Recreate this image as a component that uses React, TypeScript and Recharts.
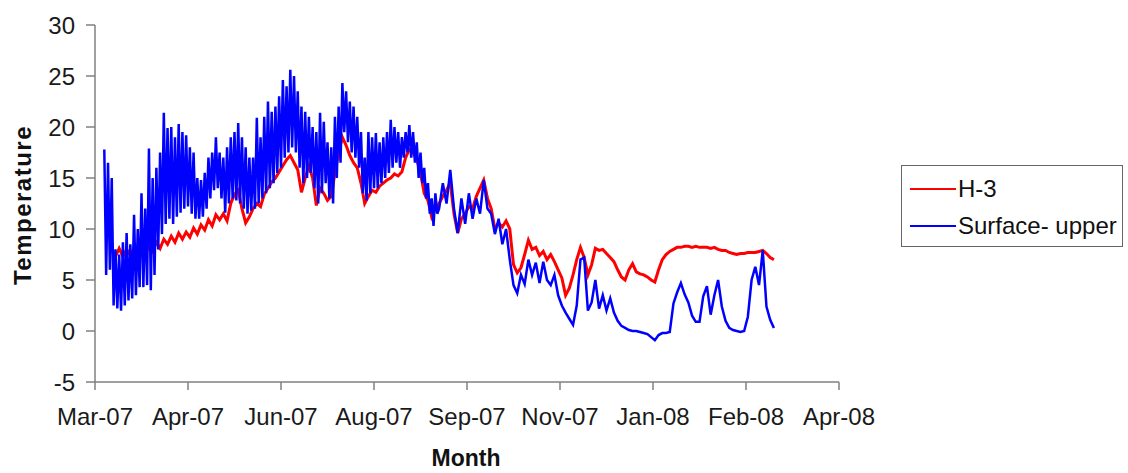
import React from 'react'
import { LineChart, Line, XAxis, YAxis, Legend } from 'recharts'

// day 0 = 9 Mar 2007
// surface logger: daily readings through the noisy spring/summer, then every 2 days
const SURFACE_SPRING_START = 5
const SURFACE_SPRING_STEP = 1
const SURFACE_LATE_START = 185
const SURFACE_LATE_STEP = 2
const H3_START = 9
const H3_STEP = 2

const SURFACE_SPRING_TEMPS = [
  17.8, 5.5, 16.5, 6.0, 15.0, 2.5, 8.0, 2.2, 7.5, 2.0,
  8.7, 2.5, 9.6, 3.0, 8.5, 3.2, 11.4, 3.5, 10.0, 4.3,
  13.5, 4.3, 12.0, 4.5, 17.9, 4.0, 15.0, 5.5, 16.0, 8.0,
  17.5, 9.5, 21.4, 10.5, 19.9, 11.0, 20.0, 10.5, 19.0, 11.2,
  20.3, 11.6, 19.5, 12.0, 19.2, 12.2, 18.0, 11.5, 17.5, 11.0,
  15.0, 11.0, 14.8, 11.2, 15.5, 12.0, 17.0, 13.0, 17.5, 13.8,
  19.0, 14.0, 17.5, 13.0, 17.0, 11.6, 18.0, 12.5, 19.0, 13.0,
  19.5, 12.8, 20.4, 12.5, 19.0, 12.0, 18.0, 11.5, 17.0, 11.8,
  17.0, 12.0, 20.9, 12.5, 19.0, 13.0, 21.0, 13.5, 22.5, 14.0,
  21.5, 14.5, 22.0, 15.5, 23.0, 16.0, 24.6, 17.0, 24.0, 17.5,
  25.6, 18.0, 25.0, 17.5, 23.5, 16.0, 22.0, 14.5, 21.5, 15.0,
  21.0, 15.5, 20.0, 14.0, 19.5, 12.5, 21.4, 13.5, 20.5, 14.5,
  18.5, 13.0, 18.0, 12.5, 21.0, 15.0, 22.0, 16.5, 24.3, 19.5,
  23.5, 18.5, 22.5, 17.5, 22.0, 17.0, 21.0, 16.0, 19.5, 13.5,
  17.0, 12.8, 19.5, 13.5, 19.0, 14.0, 19.4, 14.0, 18.5, 14.5,
  19.0, 15.0, 19.5, 15.5, 20.7, 16.0, 20.0, 16.5, 19.5, 16.0,
  19.0, 17.0, 19.5, 17.5, 20.2, 17.0, 19.5, 16.5, 18.5, 15.0,
  17.5, 14.5, 16.0, 13.0, 14.5, 11.5, 13.0, 10.3, 13.5, 11.5,
]

const SURFACE_LATE_TEMPS = [
  12, 14.5, 12.5, 15.8, 12, 9.6, 13, 10.5, 13.5, 11,
  13, 11.5, 14.8, 12, 11.5, 9.5, 11, 8.5, 10, 7,
  4.5, 3.7, 5.5, 4.6, 7.0, 5.5, 6.7, 4.7, 6.8, 5,
  4.5, 5.5, 3.5, 2.5, 1.8, 1.2, 0.6, 2.5, 7.0, 7.2,
  2.0, 2.8, 5.0, 2.2, 3.5, 2.0, 3.2, 1.8, 1.0, 0.5,
  0.3, 0.1, 0.0, 0.0, -0.1, -0.2, -0.3, -0.6, -0.9, -0.4,
  -0.2, -0.2, -0.1, 2.7, 3.8, 4.7, 3.6, 2.8, 1.5, 0.9,
  0.9, 3.4, 4.4, 1.6, 3.5, 5.0, 2.4, 1.0, 0.3, 0.1,
  0.0, -0.1, 0.0, 1.4, 5.0, 6.3, 4.5, 7.9, 2.4, 1.1, 0.3,
]

const H3_TEMPS = [
  7.9, 7.3, 8.1, 7.3, 8.0, 7.4, 8.1, 7.5, 8.2, 7.6,
  8.3, 7.8, 8.7, 8.1, 9.0, 8.5, 9.3, 8.7, 9.6, 9.0,
  9.7, 9.2, 10.1, 9.5, 10.4, 9.9, 10.9, 10.3, 11.4, 10.9,
  11.5, 10.8, 12.5, 13.4, 13.8, 12.0, 10.6, 11.2, 12.0, 12.5,
  12.2, 13.4, 14.0, 14.6, 15.0, 15.6, 16.2, 16.8, 17.2, 16.5,
  15.8, 13.6, 15.0, 16.2, 15.0, 12.3, 14.0, 13.5, 12.8, 13.2,
  15.5, 17.5, 19.0, 18.2, 17.2, 16.5, 16.0, 14.5, 12.5, 13.2,
  13.8, 13.6, 14.2, 14.5, 14.8, 15.0, 15.4, 15.2, 15.6, 17.0,
  17.8, 17.5, 16.8, 15.5, 13.5, 12.8, 11.2, 12.0, 12.5, 13.2,
  13.8, 14.5, 11.5, 9.6, 11.0, 11.5, 12.2, 12.0, 13.2, 14.0,
  14.8, 13.0, 12.0, 10.0, 10.6, 10.2, 10.8, 10.0, 6.5, 5.7,
  6.2, 7.5, 8.9, 8.0, 8.2, 7.4, 7.8, 7.0, 7.5, 6.8,
  6.0, 5.2, 3.5, 4.2, 5.5, 7.0, 8.2, 7.2, 5.5, 6.5,
  8.1, 7.9, 8.0, 7.6, 7.2, 6.8, 6.0, 5.3, 5.0, 6.0,
  6.6, 5.8, 5.6, 5.5, 5.3, 5.0, 4.8, 6.0, 7.0, 7.5,
  7.8, 8.0, 8.2, 8.2, 8.3, 8.3, 8.2, 8.3, 8.2, 8.2,
  8.2, 8.1, 8.2, 8.0, 7.9, 7.9, 7.7, 7.6, 7.5, 7.6,
  7.6, 7.7, 7.7, 7.7, 7.8, 7.9, 7.6, 7.2, 7.0,
]

const X_TICKS = [0, 50, 100, 150, 200, 250, 300, 350, 400]
const X_TICK_LABELS = ['Mar-07', 'Apr-07', 'Jun-07', 'Aug-07', 'Sep-07', 'Nov-07', 'Jan-08', 'Feb-08', 'Apr-08']
const Y_TICKS = [-5, 0, 5, 10, 15, 20, 25, 30]

const SERIES = [
  { name: 'H-3', color: '#FF0000' },
  { name: 'Surface- upper', color: '#0000FF' },
]

const FONT = '"Liberation Sans", Arial, sans-serif'
const AXIS_COLOR = '#808080'

const h3Data = H3_TEMPS.map((temp, i) => ({ day: H3_START + i * H3_STEP, temp }))
const surfaceData = [
  ...SURFACE_SPRING_TEMPS.map((temp, i) => ({ day: SURFACE_SPRING_START + i * SURFACE_SPRING_STEP, temp })),
  ...SURFACE_LATE_TEMPS.map((temp, i) => ({ day: SURFACE_LATE_START + i * SURFACE_LATE_STEP, temp })),
]

function formatDay(day: number): string {
  const idx = X_TICKS.indexOf(day)
  return idx >= 0 ? X_TICK_LABELS[idx] : ''
}

function renderLegend() {
  return (
    <div
      style={{
        width: 222,
        height: 82,
        border: '1.5px solid #666',
        boxSizing: 'border-box',
        background: 'white',
        fontFamily: FONT,
        fontSize: 24,
        color: '#111',
        paddingTop: 4,
      }}
    >
      {SERIES.map((s) => (
        <div key={s.name} style={{ display: 'flex', alignItems: 'center', height: 37 }}>
          <span style={{ display: 'inline-block', width: 46, height: 2, background: s.color, marginLeft: 8, marginRight: 2 }} />
          <span>{s.name}</span>
        </div>
      ))}
    </div>
  )
}

export default function App() {
  return (
    <div style={{ position: 'absolute', left: 0, top: 0, width: 1128, height: 473, background: 'white' }}>
      <LineChart width={1128} height={473} margin={{ top: 25, right: 289, bottom: 51, left: 35 }}>
        <XAxis
          type="number"
          dataKey="day"
          domain={[0, 400]}
          ticks={X_TICKS}
          tickFormatter={formatDay}
          interval={0}
          height={40}
          tickSize={8}
          tickMargin={18}
          stroke={AXIS_COLOR}
          strokeWidth={1.5}
          tick={{ fontFamily: FONT, fontSize: 24, fill: '#1a1a1a' }}
          label={{
            content: () => (
              <text x={466} y={458} textAnchor="middle" dominantBaseline="central" fontFamily={FONT} fontSize={23} fontWeight="bold" fill="#111">
                Month
              </text>
            ),
          }}
        />
        <YAxis
          type="number"
          domain={[-5, 30]}
          ticks={Y_TICKS}
          interval={0}
          width={60}
          tickSize={9}
          tickMargin={11}
          stroke={AXIS_COLOR}
          strokeWidth={1.5}
          tick={{ fontFamily: FONT, fontSize: 24, fill: '#1a1a1a' }}
          label={{
            content: () => (
              <text
                x={22}
                y={205}
                transform="rotate(-90 22 205)"
                textAnchor="middle"
                dominantBaseline="central"
                fontFamily={FONT}
                fontSize={24}
                fontWeight="bold"
                letterSpacing={1.5}
                fill="#111"
              >
                Temperature
              </text>
            ),
          }}
        />
        <Legend
          layout="horizontal"
          verticalAlign="middle"
          align="center"
          content={renderLegend}
          wrapperStyle={{ left: 901, top: 165, width: 222, height: 82 }}
        />
        <Line
          data={h3Data}
          dataKey="temp"
          name="H-3"
          stroke="#FF0000"
          strokeWidth={3}
          dot={false}
          isAnimationActive={false}
        />
        <Line
          data={surfaceData}
          dataKey="temp"
          name="Surface- upper"
          stroke="#0000FF"
          strokeWidth={2.5}
          dot={false}
          isAnimationActive={false}
        />
      </LineChart>
    </div>
  )
}
